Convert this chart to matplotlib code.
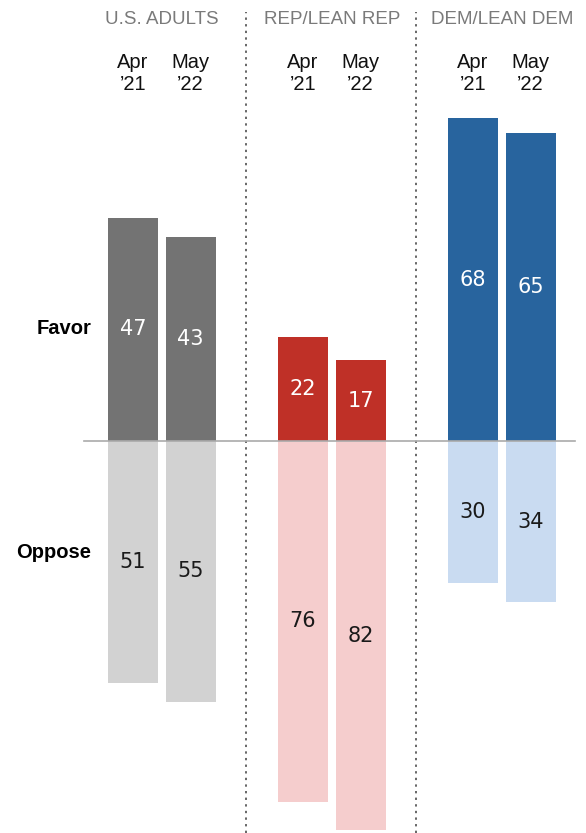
import matplotlib
matplotlib.use('Agg')
import matplotlib.pyplot as plt

groups = ["U.S. ADULTS", "REP/LEAN REP", "DEM/LEAN DEM"]
period_month = ["Apr", "May"]
period_year = ["\u201921", "\u201922"]
favor = [[47, 43], [22, 17], [68, 65]]
oppose = [[51, 55], [76, 82], [30, 34]]

dark_colors = ["#737373", "#bf3027", "#28649e"]
light_colors = ["#d2d2d2", "#f5cdcd", "#c9dbf1"]

W, H = 586, 833
fig = plt.figure(figsize=(W / 100, H / 100), dpi=100)
ax = fig.add_axes([0, 0, 1, 1])
ax.set_xlim(0, W)
# baseline sits 441 px from top, 4.745 px per percentage point
scale = 4.745
ax.set_ylim(-(H - 441) / scale, 441 / scale)
ax.axis('off')


def py(px):
    # pixel row (from top) -> data y
    return (441 - px) / scale


font = 'Liberation Sans'
bar_w = 50

for g, name in enumerate(groups):
    cx0 = 133 + 170 * g
    for j in range(2):
        cx = cx0 + 57.5 * j
        f = favor[g][j]
        o = oppose[g][j]
        ax.bar(cx, f, width=bar_w, color=dark_colors[g], zorder=2)
        ax.bar(cx, -o, width=bar_w, color=light_colors[g], zorder=2)
        ax.text(cx, f / 2, str(f), color='white', ha='center', va='center',
                fontsize=15, family='DejaVu Sans', zorder=3)
        ax.text(cx, -o / 2, str(o), color='#1a1a1a', ha='center', va='center',
                fontsize=15, family='DejaVu Sans', zorder=3)
        ax.text(cx, py(62), period_month[j], ha='center', va='center',
                fontsize=14.5, family=font, color='#111111')
        ax.text(cx, py(85), period_year[j], ha='center', va='center',
                fontsize=14.5, family=font, color='#111111')
    ax.text(cx0 + 28.75, py(20), name, ha='center', va='center', fontsize=13.5,
            family=font, color='#7a7a7a')

# separators between groups
for xs in [246, 416]:
    ax.plot([xs, xs], [py(H), py(12)], color='#666666',
            lw=1.4, ls=(0, (1.2, 2.2)), zorder=1)

# zero line
ax.plot([84, 575], [0, 0], color='#aaaaaa', lw=1.2, zorder=4)

ax.text(91, py(329), "Favor", ha='right', va='center', fontsize=14.5,
        fontweight='bold', family=font, color='black')
ax.text(91, py(553), "Oppose", ha='right', va='center', fontsize=14.5,
        fontweight='bold', family=font, color='black')

fig.savefig("out.png", dpi=100)
